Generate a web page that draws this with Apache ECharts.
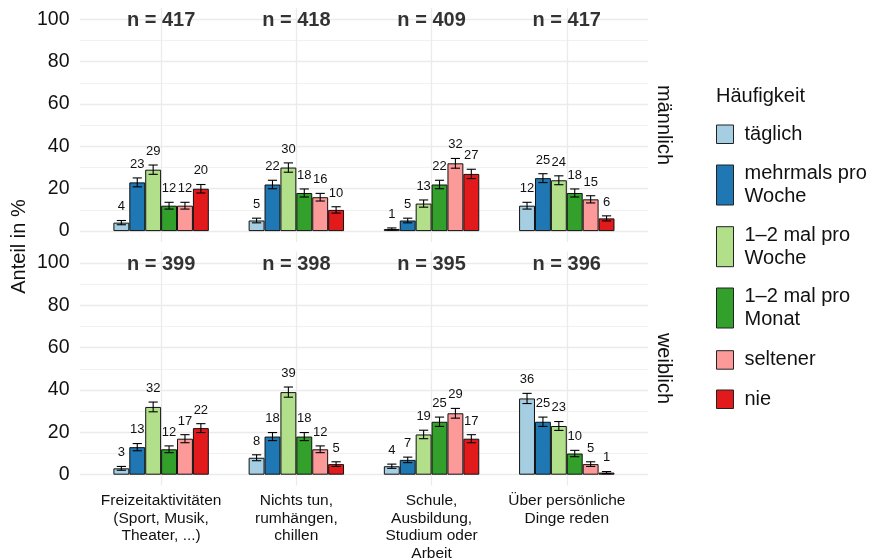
<!DOCTYPE html>
<html><head><meta charset="utf-8">
<script src="https://cdn.jsdelivr.net/npm/echarts@6/dist/echarts.min.js"></script>
<style>html,body{margin:0;padding:0;background:#fff}#c{width:872px;height:560px}</style>
</head><body><div id="c"></div>
<script>
// ---------- data ----------
const categories = ['Freizeitaktivitäten\n(Sport, Musik,\nTheater, ...)', 'Nichts tun,\nrumhängen,\nchillen', 'Schule,\nAusbildung,\nStudium oder\nArbeit', 'Über persönliche\nDinge reden'];
const frequencies = ['täglich', 'mehrmals pro\nWoche', '1–2 mal pro\nWoche', '1–2 mal pro\nMonat', 'seltener', 'nie'];
const colors = ['#A6CEE3', '#1F78B4', '#B2DF8A', '#33A02C', '#FB9A99', '#E31A1C'];
const panelLabels = ['männlich', 'weiblich'];
const yMin = 0, yMax = 100, yStep = 20;

const nMale = [417, 418, 409, 417];
const nFemale = [399, 398, 395, 396];

// values (%) per frequency, across the 4 categories
const maleTaeglich  = [4, 5, 1, 12];
const maleMehrmals  = [23, 22, 5, 25];
const maleWoche     = [29, 30, 13, 24];
const maleMonat     = [12, 18, 22, 18];
const maleSeltener  = [12, 16, 32, 15];
const maleNie       = [20, 10, 27, 6];

const femaleTaeglich = [3, 8, 4, 36];
const femaleMehrmals = [13, 18, 7, 25];
const femaleWoche    = [32, 39, 19, 23];
const femaleMonat    = [12, 18, 25, 10];
const femaleSeltener = [17, 12, 29, 5];
const femaleNie      = [22, 5, 17, 1];

// error bar half-widths (percentage points)
const maleErrTaeglich  = [1.0, 1.1, 0.5, 1.6];
const maleErrMehrmals  = [2.1, 2.0, 1.1, 2.1];
const maleErrWoche     = [2.2, 2.2, 1.7, 2.1];
const maleErrMonat     = [1.6, 1.9, 2.0, 1.9];
const maleErrSeltener  = [1.6, 1.8, 2.3, 1.7];
const maleErrNie       = [2.0, 1.5, 2.2, 1.2];

const femaleErrTaeglich = [0.9, 1.4, 1.0, 2.4];
const femaleErrMehrmals = [1.7, 1.9, 1.3, 2.2];
const femaleErrWoche    = [2.3, 2.4, 2.0, 2.1];
const femaleErrMonat    = [1.6, 1.9, 2.2, 1.5];
const femaleErrSeltener = [1.9, 1.6, 2.3, 1.1];
const femaleErrNie      = [2.1, 1.1, 1.9, 0.5];

const maleValues = [maleTaeglich, maleMehrmals, maleWoche, maleMonat, maleSeltener, maleNie];
const femaleValues = [femaleTaeglich, femaleMehrmals, femaleWoche, femaleMonat, femaleSeltener, femaleNie];
const maleErrors = [maleErrTaeglich, maleErrMehrmals, maleErrWoche, maleErrMonat, maleErrSeltener, maleErrNie];
const femaleErrors = [femaleErrTaeglich, femaleErrMehrmals, femaleErrWoche, femaleErrMonat, femaleErrSeltener, femaleErrNie];

// ---------- layout / style ----------
const FONT = '"Liberation Sans", Arial, Helvetica, sans-serif';
const TXT = '#111';
const GRIDC = '#EBEBEB';
const BARFRAC = 0.1176;
const panels = [
  { values: maleValues, errors: maleErrors, n: nMale, top: 19.3, outerTop: 8 },
  { values: femaleValues, errors: femaleErrors, n: nFemale, top: 262.9, outerTop: 251.5 }
];
const PH = 211.8, OH = 234;

const grid = [], xAxis = [], yAxis = [], series = [];
panels.forEach((p, k) => {
  const gA = 3 * k, gB = 3 * k + 1, gC = 3 * k + 2;
  grid.push({ left: 80, width: 568, top: p.top, height: PH, outerBoundsMode: 'none', containLabel: false });
  grid.push({ left: 93.5, width: 540.9, top: p.top, height: PH, outerBoundsMode: 'none', containLabel: false });
  grid.push({ left: 161.1, width: 405.7, top: p.outerTop, height: OH, outerBoundsMode: 'none', containLabel: false });

  xAxis.push({ gridIndex: gA, type: 'value', min: 0, max: 1, show: false });
  yAxis.push({
    gridIndex: gA, type: 'value', min: yMin, max: yMax, interval: yStep,
    axisLine: { show: false }, axisTick: { show: false },
    axisLabel: { fontSize: 19.5, color: TXT, fontFamily: FONT, margin: 10.5 },
    splitLine: { show: true, lineStyle: { color: GRIDC, width: 1.3 } },
    minorTick: { show: false, splitNumber: 2 },
    minorSplitLine: { show: true, lineStyle: { color: GRIDC, width: 0.7 } }
  });

  xAxis.push({
    gridIndex: gB, type: 'category', data: categories,
    axisLine: { show: false }, axisTick: { show: false }, splitLine: { show: false },
    axisLabel: k === 1 ? { show: true, interval: 0, fontSize: 15.5, lineHeight: 17.5, color: TXT, fontFamily: FONT, margin: 17.5 } : { show: false }
  });
  yAxis.push({ gridIndex: gB, type: 'value', min: yMin, max: yMax, show: false });

  xAxis.push({
    gridIndex: gC, type: 'category', data: categories, boundaryGap: false,
    axisLine: { show: false }, axisTick: { show: false }, axisLabel: { show: false },
    splitLine: { show: true, interval: 0, lineStyle: { color: GRIDC, width: 1.3 } }
  });
  yAxis.push({ gridIndex: gC, type: 'value', min: 0, max: 1, show: false });

  frequencies.forEach((f, i) => {
    series.push({
      type: 'bar', name: f, xAxisIndex: gB, yAxisIndex: gB, data: p.values[i],
      barWidth: (BARFRAC * 100) + '%', barGap: '0%',
      itemStyle: { color: colors[i], borderColor: '#111', borderWidth: 1 },
      emphasis: { disabled: true }, z: 2, animation: false
    });
  });

  const items = [];
  frequencies.forEach((f, i) => {
    categories.forEach((c, j) => items.push([j, p.values[i][j], p.errors[i][j], i]));
  });
  series.push({
    type: 'custom', xAxisIndex: gB, yAxisIndex: gB, data: items, z: 5, silent: true,
    encode: { x: 0, y: 1 },
    renderItem: function (params, api) {
      const c = api.value(0), v = api.value(1), e = api.value(2), s = api.value(3);
      const band = api.size([1, 0])[0];
      const bw = band * BARFRAC;
      const x = api.coord([c, v])[0] + (s - 2.5) * bw;
      const yT = api.coord([c, v + e])[1], yB = api.coord([c, v - e])[1];
      const cap = bw * 0.29;
      const ls = { stroke: '#000', lineWidth: 1.1 };
      return { type: 'group', children: [
        { type: 'line', shape: { x1: x, y1: yT, x2: x, y2: yB }, style: ls },
        { type: 'line', shape: { x1: x - cap, y1: yT, x2: x + cap, y2: yT }, style: ls },
        { type: 'line', shape: { x1: x - cap, y1: yB, x2: x + cap, y2: yB }, style: ls },
        { type: 'text', x: x, y: yT - 13.7, style: { text: String(Math.round(v)), fontSize: 13, fontFamily: FONT, fill: TXT, align: 'center', verticalAlign: 'middle' } }
      ] };
    }
  });

  series.push({
    type: 'scatter', xAxisIndex: gB, yAxisIndex: gB, silent: true, symbolSize: 1,
    itemStyle: { color: 'transparent' },
    data: p.n.map((nv, j) => [j, 99.3, nv]),
    label: { show: true, position: 'inside', formatter: (d) => 'n = ' + d.value[2], fontSize: 20, fontWeight: 'bold', color: '#000', fontFamily: FONT }
  });
});

const legendIconTops = [125, 165, 226.7, 288, 350.7, 390];
const legend = frequencies.map((f, i) => {
  const h = f.indexOf('\n') >= 0 ? 40 : 18.5;
  const textH = f.indexOf('\n') >= 0 ? 46 : 23;
  return {
    data: [f], left: 716, top: legendIconTops[i] - (textH - h) / 2, padding: 0,
    orient: 'vertical', icon: 'rect', itemWidth: 17, itemHeight: h, selectedMode: false,
    itemStyle: { borderColor: '#222', borderWidth: 1 },
    textStyle: { fontSize: 20, lineHeight: 23, color: TXT, fontFamily: FONT, padding: [0, 0, 0, 6] }
  };
});

const option = {
  animation: false,
  backgroundColor: '#fff',
  title: [{ text: 'Häufigkeit', left: 716, top: 86, padding: 0, textStyle: { fontSize: 20, fontWeight: 'normal', color: TXT, fontFamily: FONT } }],
  legend: legend,
  grid: grid, xAxis: xAxis, yAxis: yAxis, series: series,
  graphic: [
    { type: 'text', x: 19, y: 246.5, rotation: Math.PI / 2, style: { text: 'Anteil in %', fontSize: 20, fontFamily: FONT, fill: TXT, align: 'center', verticalAlign: 'middle' } },
    { type: 'text', x: 664, y: 125, rotation: -Math.PI / 2, style: { text: panelLabels[0], fontSize: 20, fontFamily: FONT, fill: TXT, align: 'center', verticalAlign: 'middle' } },
    { type: 'text', x: 664, y: 368.5, rotation: -Math.PI / 2, style: { text: panelLabels[1], fontSize: 20, fontFamily: FONT, fill: TXT, align: 'center', verticalAlign: 'middle' } }
  ]
};
const chart = echarts.init(document.getElementById('c'), null, { renderer: 'canvas' });
chart.setOption(option);
</script>
</body></html>
